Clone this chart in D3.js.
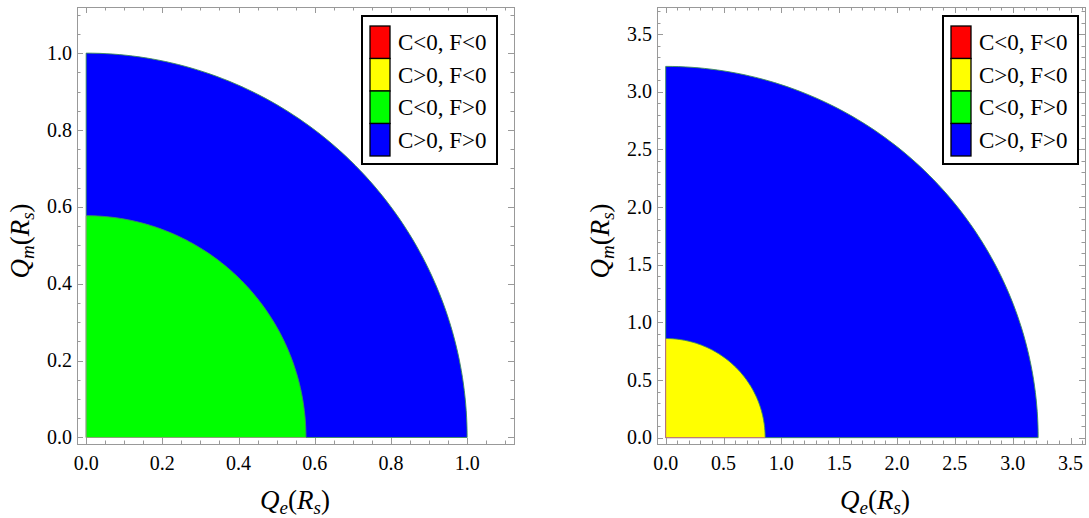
<!DOCTYPE html>
<html>
<head>
<meta charset="utf-8">
<script src="https://cdn.jsdelivr.net/npm/d3@7"></script>
<style>
  body { margin: 0; background: #fff; }
  svg { display: block; }
</style>
</head>
<body>
<div id="main"></div>
<script>
// legend entries (region classes)
const legendLabels = ["C<0, F<0", "C>0, F<0", "C<0, F>0", "C>0, F>0"];
const legendColors = ["#ff0000", "#ffff00", "#00ff00", "#0000ff"];

// panel 1: quarter-disk regions (radius, class index), drawn largest first
const leftRadii = [1.0, 0.577];
const leftClasses = [3, 2];
const leftTicks = [0.0, 0.2, 0.4, 0.6, 0.8, 1.0];

// panel 2
const rightRadii = [3.22, 0.86];
const rightClasses = [3, 1];
const rightTicks = [0.0, 0.5, 1.0, 1.5, 2.0, 2.5, 3.0, 3.5];

const W = 1089, H = 518;
const FONT = "Liberation Serif";
const svg = d3.select("#main").append("svg")
    .attr("width", W).attr("height", H);

const panels = [
    {
        x0: 77, x1: 514, y0: 7, y1: 444,
        xDom: [-0.024, 1.123], yDom: [-0.017, 1.12],
        radii: leftRadii, classes: leftClasses, ticks: leftTicks, minorStep: 0.05,
        ylabX: 29, xlabX: 295, legX: 362
    },
    {
        x0: 657, x1: 1085, y0: 7, y1: 444,
        xDom: [-0.075, 3.625], yDom: [-0.055, 3.735],
        radii: rightRadii, classes: rightClasses, ticks: rightTicks, minorStep: 0.1,
        ylabX: 609, xlabX: 875, legX: 943
    }
];

const fmt = d3.format(".1f");
const frameColor = "#999";

panels.forEach(function (p) {
    const x = d3.scaleLinear().domain(p.xDom).range([p.x0, p.x1]);
    const y = d3.scaleLinear().domain(p.yDom).range([p.y1, p.y0]);
    const g = svg.append("g");
    const line = d3.line().x(d => x(d[0])).y(d => y(d[1]));

    // regions
    const angles = d3.range(0, 91).map(a => a * Math.PI / 180);
    p.radii.forEach(function (r, i) {
        const arcPts = angles.map(a => [r * Math.cos(a), r * Math.sin(a)]);
        g.append("path")
            .attr("d", line([[0, 0]].concat(arcPts)) + "Z")
            .attr("fill", legendColors[p.classes[i]])
            .attr("stroke", "none");
        // curved boundary
        g.append("path")
            .attr("d", line(arcPts))
            .attr("fill", "none")
            .attr("stroke", "#3c8c5a")
            .attr("stroke-width", 0.9);
        // straight edges
        g.append("path")
            .attr("d", line([[0, r], [0, 0], [r, 0]]))
            .attr("fill", "none")
            .attr("stroke", p.classes[i] === 1 ? "#c0608a" : (i === 0 ? "#3c8c5a" : "#a0a080"))
            .attr("stroke-width", 0.9);
    });

    // frame
    g.append("rect")
        .attr("x", p.x0 + 0.5).attr("y", p.y0 + 0.5)
        .attr("width", p.x1 - p.x0).attr("height", p.y1 - p.y0)
        .attr("fill", "none").attr("stroke", frameColor).attr("stroke-width", 1);

    // ticks (inward, on all four sides)
    const maxT = Math.max(p.xDom[1], p.yDom[1]);
    const minor = d3.range(0, maxT + 1e-9, p.minorStep).map(v => +v.toFixed(3));
    const majorSet = new Set(p.ticks.map(v => v.toFixed(3)));
    const tickG = g.append("g").attr("stroke", frameColor).attr("stroke-width", 1);
    minor.forEach(function (v) {
        const len = majorSet.has(v.toFixed(3)) ? 6 : 3.5;
        if (v <= p.xDom[1]) {
            const xx = Math.round(x(v)) + 0.5;
            tickG.append("line").attr("x1", xx).attr("x2", xx).attr("y1", p.y1).attr("y2", p.y1 - len);
            tickG.append("line").attr("x1", xx).attr("x2", xx).attr("y1", p.y0).attr("y2", p.y0 + len);
        }
        if (v <= p.yDom[1]) {
            const yy = Math.round(y(v)) + 0.5;
            tickG.append("line").attr("y1", yy).attr("y2", yy).attr("x1", p.x0).attr("x2", p.x0 + len);
            tickG.append("line").attr("y1", yy).attr("y2", yy).attr("x1", p.x1).attr("x2", p.x1 - len);
        }
    });

    // tick labels
    g.selectAll(".xl").data(p.ticks).enter().append("text")
        .style("font-family", FONT)
        .attr("x", d => x(d)).attr("y", 470)
        .attr("text-anchor", "middle").attr("font-size", 20)
        .text(d => fmt(d));
    g.selectAll(".yl").data(p.ticks).enter().append("text")
        .style("font-family", FONT)
        .attr("x", p.x0 - 5).attr("y", d => y(d))
        .attr("dy", "0.33em")
        .attr("text-anchor", "end").attr("font-size", 20)
        .text(d => fmt(d));

    // axis labels
    function label(t, sub) {
        t.append("tspan").attr("font-style", "italic").text("Q");
        t.append("tspan").attr("font-style", "italic").attr("font-size", 19).attr("dy", 5).text(sub);
        t.append("tspan").attr("dy", -5).text("(");
        t.append("tspan").attr("font-style", "italic").text("R");
        t.append("tspan").attr("font-style", "italic").attr("font-size", 19).attr("dy", 5).text("s");
        t.append("tspan").attr("dy", -5).text(")");
    }
    const xl = g.append("text")
        .style("font-family", FONT)
        .attr("x", p.xlabX).attr("y", 509)
        .attr("text-anchor", "middle").attr("font-size", 27);
    label(xl, "e");
    const yl = g.append("text")
        .style("font-family", FONT)
        .attr("transform", "translate(" + p.ylabX + ",241) rotate(-90)")
        .attr("text-anchor", "middle").attr("font-size", 27);
    label(yl, "m");

    // legend
    const lg = g.append("g").attr("transform", "translate(" + p.legX + ",16)");
    lg.append("rect").attr("x", 0).attr("y", 0).attr("width", 135).attr("height", 148)
        .attr("fill", "#fff").attr("stroke", "#000").attr("stroke-width", 2);
    legendLabels.forEach(function (lab, i) {
        lg.append("rect")
            .attr("x", 8).attr("y", 10 + i * 32.5)
            .attr("width", 20).attr("height", 32.5)
            .attr("fill", legendColors[i]).attr("stroke", "#000").attr("stroke-width", 1.3);
        lg.append("text")
            .style("font-family", FONT)
            .attr("x", 36).attr("y", 10 + i * 32.5 + 16.25)
            .attr("dy", "0.35em").attr("font-size", 23)
            .text(lab);
    });
});
</script>
</body>
</html>
